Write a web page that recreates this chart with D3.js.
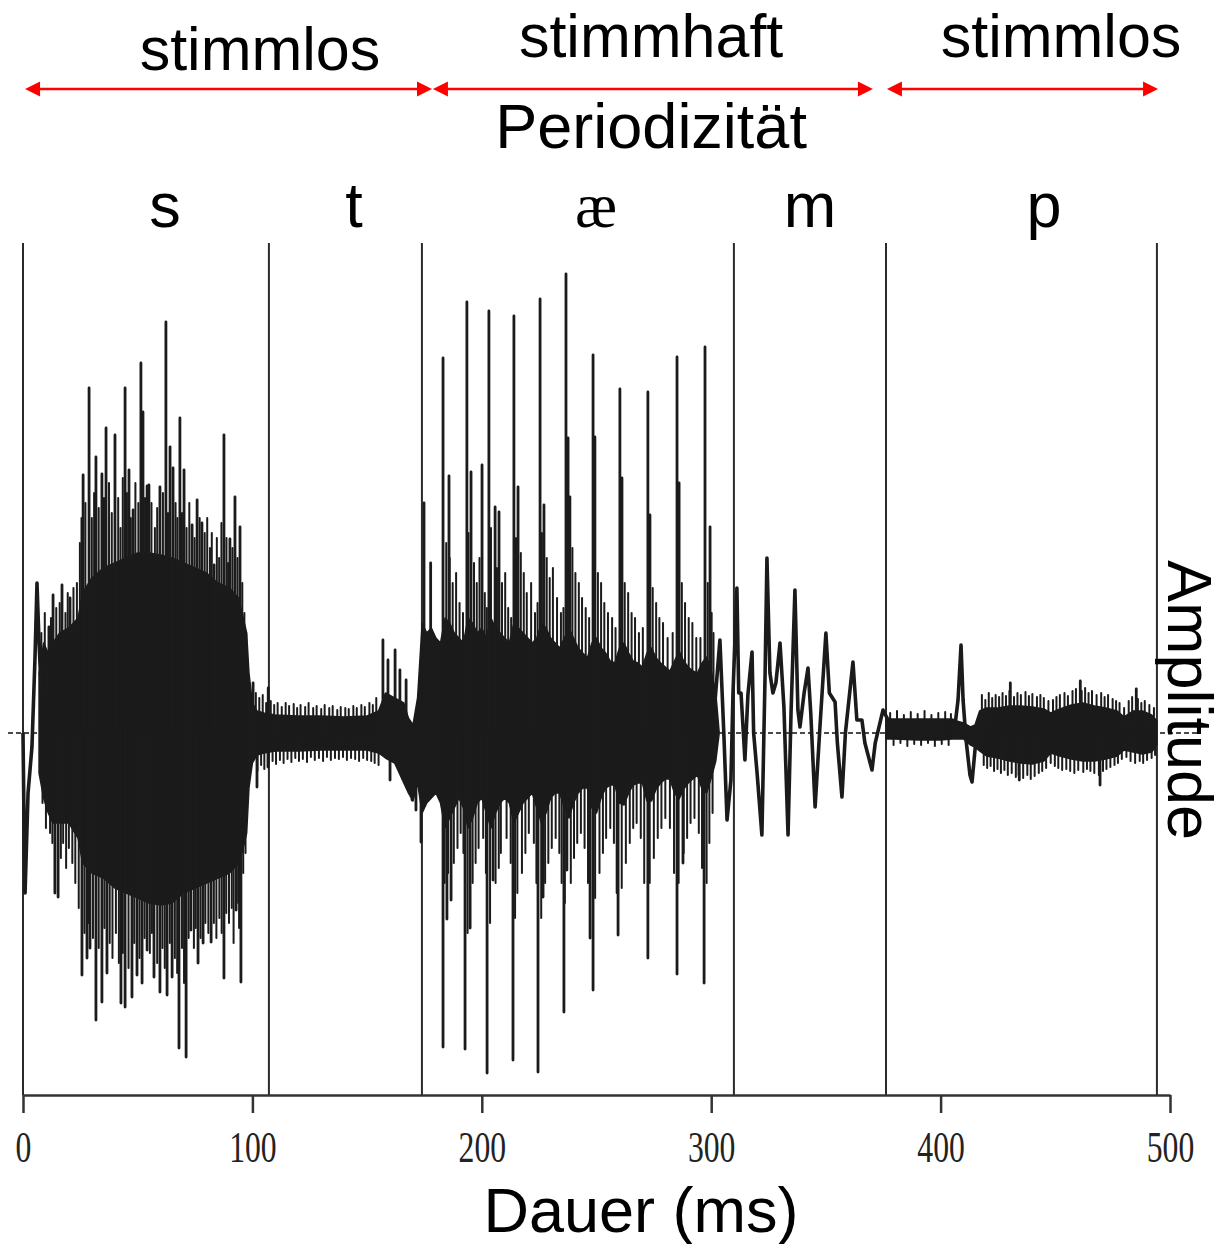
<!DOCTYPE html>
<html><head><meta charset="utf-8">
<script src="https://cdn.jsdelivr.net/npm/d3@7"></script>
<style>body{margin:0;background:#fff}svg{display:block}</style>
</head><body><svg id="c" width="1225" height="1244"></svg>
<script>
// ---------- data (time in ms, amplitude in arbitrary units) ----------
const tickValues = [0, 100, 200, 300, 400, 500];
const segBounds = [0, 107.2, 173.9, 309.9, 376.2, 494.3];
const phonemes = ["s", "t", "æ", "m", "p"];
const phonemeT = [61.9, 144.3, 249.8, 343.1, 445.1];
const voicingLabels = ["stimmlos", "stimmhaft", "stimmlos"];
const voicingLabelT = [103.3, 273.8, 452.5];
const arrowStart = [0.9, 178.7, 376.6];
const arrowEnd = [178.3, 370.5, 494.8];
const periodLabel = "Periodizität";
const xTitle = "Dauer (ms)";
const yTitle = "Amplitude";

// body envelope of the waveform (null = gap)
const bandT = [7,9,11,13,16,20,24,26,30,35,40,45,50,55,60,65,70,75,80,85,90,94,96,97.5,98.5,100,102,105,
  110,120,130,140,150,155,158,162,166,168,170,172,
  174,176,178,180,182,184,186,188,190,192,194,196,198,200,202,204,206,208,210,212,214,216,218,220,222,224,226,228,230,232,234,236,238,240,242,244,246,248,250,252,254,256,258,260,262,264,266,268,270,272,274,276,278,280,282,284,286,288,290,292,294,296,298,300,302,303.5,
  340,
  376.2,380,390,400,405,407,410,413,415,417,420,425,430,435,440,445,448,452,457,462,467,472,477,480,484,488,492,494.3];
const bandHi = [60,90,80,90,100,105,115,140,155,165,170,175,180,180,178,175,170,165,160,150,145,135,115,100,60,30,22,20,
  18,17,17,16,17,22,40,35,30,15,8,35,
  110,100,105,95,90,115,110,100,95,90,115,110,100,105,95,115,105,100,95,90,110,105,100,95,90,95,110,105,95,90,85,95,105,95,85,80,75,90,95,85,80,72,70,85,90,80,72,70,66,80,85,75,70,66,62,72,82,72,66,62,60,70,76,62,40,0,
  null,
  14,14,14,14,14,12,10,6,8,22,25,25,27,27,26,24,20,24,28,30,27,25,22,16,22,22,18,12];
const bandLo = [-40,-65,-80,-90,-90,-90,-105,-130,-140,-145,-155,-160,-165,-170,-172,-170,-160,-155,-150,-145,-140,-130,-115,-100,-55,-30,-22,-20,
  -18,-18,-17,-17,-17,-20,-25,-30,-50,-60,-68,-50,
  -80,-70,-65,-60,-70,-95,-85,-75,-65,-75,-95,-85,-70,-65,-80,-95,-80,-70,-65,-70,-90,-80,-70,-65,-60,-75,-90,-80,-65,-60,-60,-75,-85,-70,-60,-55,-55,-75,-80,-65,-55,-52,-52,-70,-72,-60,-52,-50,-50,-68,-68,-56,-50,-46,-46,-60,-66,-56,-50,-46,-42,-56,-60,-45,-28,0,
  null,
  -6,-6,-7,-7,-6,-6,-6,-12,-14,-18,-23,-25,-28,-30,-31,-28,-20,-23,-26,-28,-28,-26,-23,-17,-19,-21,-19,-12];

// major peaks (positive = up, negative = down)
const spikeT = [11.3,13.1,17.0,20.5,26.2,28.8,31.8,34.4,36.2,40.1,44.5,46.2,48.0,51.4,52.3,54.1,54.9,59.7,62.3,64.1,65.4,68.4,70.2,73.7,75.9,78.0,83.3,87.6,90.2,92.4,94.6,
  13.9,15.3,25.7,27.9,29.2,31.8,34.4,36.6,42.7,44.5,47.5,49.7,51.9,54.1,57.1,59.7,62.8,65.0,68.0,71.1,73.2,76.3,78.5,82.0,87.6,92.9,95.0,
  100.3,106.9,102.0,106.8,
  156.9,159.1,162.2,164.3,167.0,169.6,171.3,160.0,
  183.1,193.5,203.1,214.0,225.4,236.7,248.5,260.2,272.4,285.1,297.3,
  174.8,177.7,185.7,195.3,200.1,205.8,207.5,215.8,227.1,237.6,238.4,249.3,261.1,273.3,286.0,299.5,
  173.5,183.1,184.8,186.6,192.7,194.9,202.3,204.9,213.6,224.5,226.7,235.8,237.1,247.2,248.5,259.4,272.4,285.1,287.7,296.9,
  430.4,460.9,485.3,434.3,469.5];
const spikeA = [106,138,148,135,258,345,276,259,305,298,345,263,223,370,321,247,248,246,411,286,265,315,263,208,233,210,168,298,194,236,206,
  -160,-164,-242,-225,-215,-287,-269,-240,-270,-274,-264,-242,-250,-217,-244,-259,-262,-244,-315,-324,-197,-230,-210,-209,-245,-177,-249,
  50,45,-54,-34,
  93,73,83,63,53,-67,-77,-47,
  375,431,422,417,434,459,378,344,341,376,386,
  230,170,257,261,268,226,221,246,228,295,236,296,255,218,250,206,
  -109,-314,-186,-167,-316,-195,-340,-147,-327,-339,-164,-279,-137,-205,-257,-202,-225,-241,-130,-250,
  50,52,44,-47,-52];

// fine structure peaks (s, vowel, noise of t and p)
const fineT = [8.0,9.5,12.2,14.5,16.0,18.5,19.5,22.0,23.5,24.8,25.5,27.2,30.0,31.0,33.0,35.3,37.5,38.7,41.5,42.5,43.5,45.3,47.0,49.0,50.3,53.2,56.0,57.5,58.5,61.0,63.2,66.5,67.3,69.3,71.3,72.5,74.8,77.0,79.2,80.3,81.5,82.3,84.5,85.5,86.5,88.7,89.4,91.3,93.5,95.6,96.5,97.3,
  8.5,10.0,11.8,12.8,16.5,17.5,18.8,20.0,21.5,22.8,24.3,26.8,28.5,30.5,33.0,35.5,37.8,39.0,40.5,41.8,43.5,46.0,48.5,50.8,53.0,55.3,56.2,58.5,60.8,61.8,64.0,66.2,67.2,69.3,70.2,72.2,74.5,75.3,77.4,79.5,80.8,83.2,84.3,85.6,86.6,88.6,89.8,91.0,91.8,93.8,94.2,96.0,97.0,
  101.5,103.0,104.5,106.0,108.0,109.5,111.0,112.8,114.5,116.0,118.0,119.5,121.0,123.0,124.5,126.5,128.0,130.0,131.5,133.5,135.0,137.0,138.5,140.5,142.0,144.0,145.5,147.5,149.0,151.0,152.5,154.0,
  102.2,103.8,105.2,107.0,108.8,110.3,112.0,113.6,115.3,117.0,118.7,120.3,122.0,123.8,125.5,127.2,129.0,130.8,132.5,134.2,136.0,137.7,139.5,141.2,143.0,144.8,146.5,148.3,150.0,151.8,153.3,155.0,
  184.5,186.0,187.3,188.8,190.3,191.8,194.2,196.6,197.8,199.0,201.3,202.2,204.0,206.6,208.8,210.2,211.5,212.8,214.9,217.0,218.3,219.6,221.5,223.2,224.3,226.2,228.3,229.6,231.0,232.8,234.5,235.6,239.5,240.8,242.3,243.7,245.3,246.8,250.6,252.0,253.4,255.0,256.8,258.3,262.3,263.8,265.3,266.8,268.5,270.2,274.5,276.0,277.4,279.0,281.0,283.2,287.2,288.6,290.2,291.8,293.5,295.3,298.5,300.2,301.0,
  183.8,185.3,187.8,189.4,190.8,192.0,193.8,196.0,197.3,198.6,200.6,201.8,203.6,206.0,207.4,208.3,210.8,212.6,214.5,215.5,217.5,219.0,220.5,222.7,223.8,225.9,227.6,229.0,230.5,232.2,233.8,234.8,236.2,238.8,240.2,241.6,243.2,244.8,246.3,249.4,251.3,252.8,254.2,256.0,257.6,258.8,261.0,262.8,264.5,266.0,267.5,269.3,270.8,273.2,275.0,276.7,278.3,280.0,282.0,283.8,285.8,288.0,289.5,291.0,292.7,294.6,296.0,298.0,299.2,300.6,
  378,381,384,387,390,393,396,399,402,404.5,
  379.5,382.5,385.5,388.5,391.5,394.5,397.5,400.5,403.5,
  418.0,419.5,421.0,422.5,424.0,425.5,427.0,428.5,430.0,432.0,433.5,435.0,437.0,438.5,440.0,442.0,443.5,445.0,447.0,449.0,450.5,452.0,454.0,455.5,457.5,459.0,461.5,463.0,464.5,466.0,468.0,470.0,471.5,473.0,475.0,476.5,478.0,480.0,482.0,483.5,486.0,487.5,489.0,491.0,493.0,
  418.8,420.3,421.8,423.3,424.8,426.3,427.8,429.3,431.0,432.8,434.0,436.0,437.8,439.3,441.0,442.8,444.3,446.0,448.0,449.8,451.3,453.0,454.8,456.5,458.3,460.0,462.2,463.8,465.3,467.0,469.0,470.8,472.3,474.0,475.8,477.3,479.0,481.0,482.8,484.8,486.8,488.3,490.0,492.0,493.5];
const fineA = [100,120,115,125,130,120,140,145,150,190,215,230,215,240,225,235,250,220,235,205,255,240,215,250,230,235,230,205,225,240,220,230,215,220,205,230,195,215,200,215,185,200,195,175,210,195,170,185,175,150,120,100,
  -70,-95,-100,-110,-125,-110,-135,-115,-130,-150,-175,-200,-190,-205,-215,-195,-210,-225,-200,-230,-220,-235,-210,-225,-205,-220,-200,-230,-215,-235,-210,-225,-240,-215,-250,-205,-215,-195,-205,-190,-200,-190,-205,-185,-200,-180,-190,-175,-210,-170,-195,-140,-120,
  40,35,38,30,32,28,30,26,30,27,29,25,28,26,30,25,27,24,28,25,27,23,26,25,24,27,25,28,26,30,28,35,
  -38,-32,-36,-30,-28,-31,-27,-30,-26,-29,-25,-28,-26,-29,-24,-27,-25,-28,-24,-27,-25,-26,-24,-27,-25,-26,-28,-25,-27,-28,-30,-32,
  190,175,150,160,130,120,200,170,150,175,140,125,205,165,150,160,125,115,195,180,160,140,150,120,130,200,175,155,165,135,120,125,185,160,150,135,125,115,160,150,130,120,115,105,150,140,120,115,100,105,145,130,115,110,95,100,150,130,115,110,95,95,150,120,100,
  -150,-140,-130,-115,-100,-120,-200,-150,-130,-115,-105,-140,-190,-150,-135,-120,-105,-130,-185,-160,-140,-120,-100,-110,-150,-185,-150,-130,-115,-105,-120,-150,-170,-150,-125,-110,-100,-115,-150,-165,-140,-120,-105,-95,-110,-160,-155,-130,-110,-95,-90,-105,-150,-150,-125,-105,-95,-85,-95,-140,-150,-120,-105,-90,-85,-100,-135,-150,-110,-80,
  20,22,18,21,19,22,18,20,21,19,
  -12,-10,-13,-11,-12,-10,-13,-11,-12,
  38,33,40,35,38,36,40,37,42,36,40,38,41,37,39,36,38,35,32,33,36,38,40,37,42,44,42,45,40,42,38,40,36,38,34,32,30,25,32,36,34,30,32,28,25,
  -32,-35,-33,-38,-36,-40,-37,-42,-40,-44,-42,-45,-42,-46,-43,-40,-38,-35,-30,-33,-35,-37,-36,-38,-40,-37,-39,-36,-38,-40,-42,-38,-36,-34,-32,-30,-26,-24,-28,-30,-28,-30,-27,-25,-22];

// slow waveform traces (onset swing, nasal, plosive burst); null = gap
const traceT = [0,0.4,0.9,2.2,3.9,5.2,6.1,7.0,8.0, null,
  301.7,303.8,305.5,306.9,308.6,309.5,311.2,312.0,313.0,314.7,316.0,317.8,318.5,320.0,322.1,323.5,324.3,325.6,326.9,328.2,330.0,331.7,333.5,334.8,336.5,337.8,338.7,340.5,342.2,343.4,345.3,347.4,350.0,351.5,354.0,355.0,357.0,358.5,361.8,363.5,365.7,367.0,370.1,371.5,374.9,377.1,379.3, null,
  405,406.3,407.6,408.9,409.8,411.1,412.8,413.7,415.0,416.3];
const traceA = [0,-80,-160,-60,-14,73,150,90,40, null,
  33,93,0,-87,-47,40,145,40,40,-27,38,81,0,-40,-102,60,175,60,40,50,90,26,-102,20,143,23,6,40,65,20,-74,6,100,40,31,-10,-64,0,71,13,13,-10,-37,-10,23,13,5, null,
  10,8,33,88,33,-7,-42,-49,-17,13];

// ---------- drawing ----------
const svg = d3.select("#c");
const x = d3.scaleLinear().domain([0, 500]).range([23, 1170]);
const y = d3.scaleLinear().domain([-362, 490]).range([1095, 243]);
const ink = "#1b1b1b";

// segment boundary lines
svg.append("g").selectAll("line").data(segBounds).join("line")
  .attr("x1", d => x(d)).attr("x2", d => x(d))
  .attr("y1", y(490)).attr("y2", y(-362))
  .attr("stroke", "#2a2a2a").attr("stroke-width", 2);

// dashed zero line
svg.append("line").attr("x1", 8).attr("x2", 1200).attr("y1", y(0)).attr("y2", y(0))
  .attr("stroke", "#111").attr("stroke-width", 1.5).attr("stroke-dasharray", "5,3");

// body
const band = bandT.map((t, i) => ({t, hi: bandHi[i], lo: bandLo[i]}));
svg.append("path").datum(band)
  .attr("d", d3.area().defined(d => d.hi != null).x(d => x(d.t)).y0(d => y(d.lo)).y1(d => y(d.hi)))
  .attr("fill", ink).attr("stroke", ink).attr("stroke-width", 1.5).attr("stroke-linejoin", "round");

// fine peaks
const fine = fineT.map((t, i) => ({t, a: fineA[i]}));
svg.append("g").selectAll("line").data(fine).join("line")
  .attr("x1", d => x(d.t)).attr("x2", d => x(d.t))
  .attr("y1", y(0)).attr("y2", d => y(d.a))
  .attr("stroke", ink).attr("stroke-width", 2).attr("stroke-linecap", "round");

// major peaks
const spikes = spikeT.map((t, i) => ({t, a: spikeA[i]}));
svg.append("g").selectAll("line").data(spikes).join("line")
  .attr("x1", d => x(d.t)).attr("x2", d => x(d.t))
  .attr("y1", y(0)).attr("y2", d => y(d.a))
  .attr("stroke", ink).attr("stroke-width", 2.8).attr("stroke-linecap", "round");

// traces
const trace = traceT.map((t, i) => ({t, a: traceA[i]}));
svg.append("path").datum(trace)
  .attr("d", d3.line().defined(d => d.t != null).x(d => x(d.t)).y(d => y(d.a)))
  .attr("fill", "none").attr("stroke", ink).attr("stroke-width", 3.6).attr("stroke-linejoin", "round");

// x axis
const axis = svg.append("g").attr("transform", `translate(0,${y(-362)})`)
  .call(d3.axisBottom(x).tickValues(tickValues).tickSize(18).tickSizeOuter(0).tickFormat(d3.format("d")));
axis.select(".domain").attr("stroke", "#333").attr("stroke-width", 2.5);
axis.selectAll(".tick line").attr("stroke", "#333").attr("stroke-width", 2.5);
axis.selectAll(".tick text")
  .attr("font-family", "'Liberation Serif', 'Times New Roman', serif")
  .attr("font-size", 44).attr("fill", "#222")
  .attr("y", 0).attr("dy", 0)
  .attr("transform", "translate(0,67) scale(0.72,1)");

// titles
const sans = "'Liberation Sans', Arial, sans-serif";
svg.append("text").attr("x", 641).attr("y", 1232).attr("text-anchor", "middle")
  .attr("font-family", sans).attr("font-size", 63).attr("fill", "#000").text(xTitle);
svg.append("text").attr("transform", `translate(1168,700) rotate(90)`).attr("text-anchor", "middle")
  .attr("font-family", sans).attr("font-size", 63).attr("fill", "#000").text(yTitle);

// phoneme labels
svg.append("g").selectAll("text").data(phonemes).join("text")
  .attr("x", (d, i) => x(phonemeT[i])).attr("y", 227).attr("text-anchor", "middle")
  .attr("font-family", d => d === "æ" ? "'Liberation Serif', serif" : sans)
  .attr("font-size", 63).attr("fill", "#000").text(d => d);

// voicing labels
const voiceY = [70, 57, 57];
svg.append("g").selectAll("text").data(voicingLabels).join("text")
  .attr("x", (d, i) => x(voicingLabelT[i])).attr("y", (d, i) => voiceY[i]).attr("text-anchor", "middle")
  .attr("font-family", sans).attr("font-size", 61).attr("fill", "#000").text(d => d);
svg.append("text").attr("x", x(273.8)).attr("y", 148).attr("text-anchor", "middle")
  .attr("font-family", sans).attr("font-size", 63).attr("fill", "#000").text(periodLabel);

// red double arrows
const red = "#ff0000", ay = 89, hl = 15, hw = 7.5;
const arrows = svg.append("g");
arrowStart.forEach((s, i) => {
  const x0 = x(s), x1 = x(arrowEnd[i]);
  arrows.append("line").attr("x1", x0 + hl - 2).attr("x2", x1 - hl + 2).attr("y1", ay).attr("y2", ay)
    .attr("stroke", red).attr("stroke-width", 2.6);
  arrows.append("path").attr("d", `M${x0},${ay} L${x0 + hl},${ay - hw} L${x0 + hl},${ay + hw} Z`).attr("fill", red);
  arrows.append("path").attr("d", `M${x1},${ay} L${x1 - hl},${ay - hw} L${x1 - hl},${ay + hw} Z`).attr("fill", red);
});
</script></body></html>
